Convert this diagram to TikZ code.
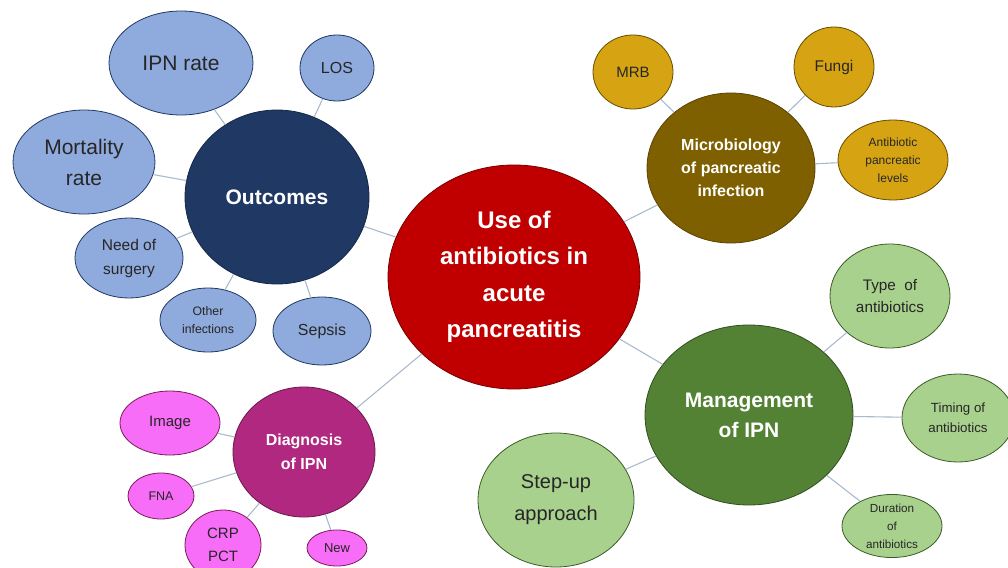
\documentclass[tikz,border=0pt]{standalone}
\usepackage{fontspec}
\setmainfont{Liberation Sans}
\usetikzlibrary{shapes.geometric}

\definecolor{hubred}{HTML}{C00000}
\definecolor{outnavy}{HTML}{1F3864}
\definecolor{outblue}{HTML}{8FAADC}
\definecolor{micbrown}{HTML}{7F6000}
\definecolor{micgold}{HTML}{D6A412}
\definecolor{mangreen}{HTML}{548235}
\definecolor{manlight}{HTML}{A9D18E}
\definecolor{diaplum}{HTML}{B0287F}
\definecolor{diapink}{HTML}{F76DF7}
\definecolor{linkgray}{HTML}{AAB9CD}
\definecolor{leaftext}{HTML}{262626}

\newcommand{\fs}[2]{\fontsize{#1}{#2}\selectfont}

\begin{document}
\begin{tikzpicture}[x=1pt,y=-1pt,line join=bevel]
  \tikzstyle{bubble}=[ellipse,draw,line width=0.8pt,inner sep=0pt,align=center]
  \tikzstyle{topic}=[bubble,text=white]
  \tikzstyle{leaf}=[bubble,text=leaftext]
  \tikzstyle{link}=[draw=linkgray,line width=1.1pt]
  \useasboundingbox (0,0) rectangle (1008,567);

  % centre
  \node[topic,fill=hubred,draw=hubred!60!black,minimum width=252pt,minimum height=224pt,
    font={\fs{24}{36.5}\bfseries}] (AP) at (514,277) {Use of\\antibiotics in\\acute\\pancreatitis};

  % outcomes
  \node[topic,fill=outnavy,draw=outnavy!70!black,minimum width=184pt,minimum height=174pt,
    font={\fs{21}{25}\bfseries}] (Out) at (277,197) {Outcomes};
  \node[leaf,fill=outblue,draw=outnavy,minimum width=144pt,minimum height=104pt,
    font=\fs{21}{25}] (Out_ipn) at (181,63) {IPN rate};
  \node[leaf,fill=outblue,draw=outnavy,minimum width=74pt,minimum height=66pt,
    font=\fs{16}{20}] (Out_los) at (337,68) {LOS};
  \node[leaf,fill=outblue,draw=outnavy,minimum width=142pt,minimum height=104pt,
    font=\fs{21}{31}] (Out_mort) at (84,162) {Mortality\\rate};
  \node[leaf,fill=outblue,draw=outnavy,minimum width=108pt,minimum height=80pt,
    font=\fs{15.5}{24}] (Out_surg) at (129,258) {Need of\\surgery};
  \node[leaf,fill=outblue,draw=outnavy,minimum width=96pt,minimum height=64pt,
    font=\fs{12.3}{18}] (Out_inf) at (208,320) {Other\\infections};
  \node[leaf,fill=outblue,draw=outnavy,minimum width=98pt,minimum height=68pt,
    font=\fs{16}{20}] (Out_sep) at (322,331) {Sepsis};

  % microbiology
  \node[topic,fill=micbrown,draw=micbrown!70!black,minimum width=168pt,minimum height=150pt,
    font={\fs{16}{23}\bfseries}] (Mic) at (731,168) {Microbiology\\of pancreatic\\infection};
  \node[leaf,fill=micgold,draw=micbrown!80!black,minimum width=80pt,minimum height=74pt,
    font=\fs{15}{19}] (Mic_mrb) at (633,72) {MRB};
  \node[leaf,fill=micgold,draw=micbrown!80!black,minimum width=80pt,minimum height=80pt,
    font=\fs{15.5}{19}] (Mic_fun) at (834,67) {Fungi};
  \node[leaf,fill=micgold,draw=micbrown!80!black,minimum width=110pt,minimum height=80pt,
    font=\fs{12}{18}] (Mic_lev) at (893,160) {Antibiotic\\pancreatic\\levels};

  % management
  \node[topic,fill=mangreen,draw=mangreen!60!black,minimum width=208pt,minimum height=180pt,
    font={\fs{21}{30}\bfseries}] (Man) at (749,415) {Management\\of IPN};
  \node[leaf,fill=manlight,draw=mangreen!70!black,minimum width=120pt,minimum height=104pt,
    font=\fs{15.3}{22}] (Man_type) at (890,296) {Type\ \ of\\antibiotics};
  \node[leaf,fill=manlight,draw=mangreen!70!black,minimum width=112pt,minimum height=88pt,
    font=\fs{13.3}{20}] (Man_time) at (958,418) {Timing of\\antibiotics};
  \node[leaf,fill=manlight,draw=mangreen!70!black,minimum width=100pt,minimum height=62pt,
    font=\fs{11.7}{18}] (Man_dur) at (892,526) {Duration\\of\\antibiotics};
  \node[leaf,fill=manlight,draw=mangreen!70!black,minimum width=156pt,minimum height=134pt,
    font=\fs{20}{32}] (Man_step) at (556,500) {Step-up\\approach};

  % diagnosis
  \node[topic,fill=diaplum,draw=diaplum!60!black,minimum width=142pt,minimum height=130pt,
    font={\fs{16}{24}\bfseries}] (Dia) at (304,452) {Diagnosis\\of IPN};
  \node[leaf,fill=diapink,draw=diaplum!70!black,minimum width=100pt,minimum height=64pt,
    font=\fs{15}{19}] (Dia_img) at (170,423) {Image};
  \node[leaf,fill=diapink,draw=diaplum!70!black,minimum width=66pt,minimum height=46pt,
    font=\fs{12.5}{16}] (Dia_fna) at (161,496) {FNA};
  \node[leaf,fill=diapink,draw=diaplum!70!black,minimum width=76pt,minimum height=70pt,
    font=\fs{15}{23}] (Dia_crp) at (223,545) {CRP\\PCT};
  \node[leaf,fill=diapink,draw=diaplum!70!black,minimum width=60pt,minimum height=36pt,
    font=\fs{13}{16}] (Dia_new) at (337,548) {New};

  % links
  \path[link] (AP) -- (Out)  (AP) -- (Mic)  (AP) -- (Man)  (AP) -- (Dia);
  \foreach \leaf in {ipn,los,mort,surg,inf,sep}
    \path[link] (Out) -- (Out_\leaf);
  \foreach \leaf in {mrb,fun,lev}
    \path[link] (Mic) -- (Mic_\leaf);
  \foreach \leaf in {type,time,dur,step}
    \path[link] (Man) -- (Man_\leaf);
  \foreach \leaf in {img,fna,crp,new}
    \path[link] (Dia) -- (Dia_\leaf);
\end{tikzpicture}
\end{document}
